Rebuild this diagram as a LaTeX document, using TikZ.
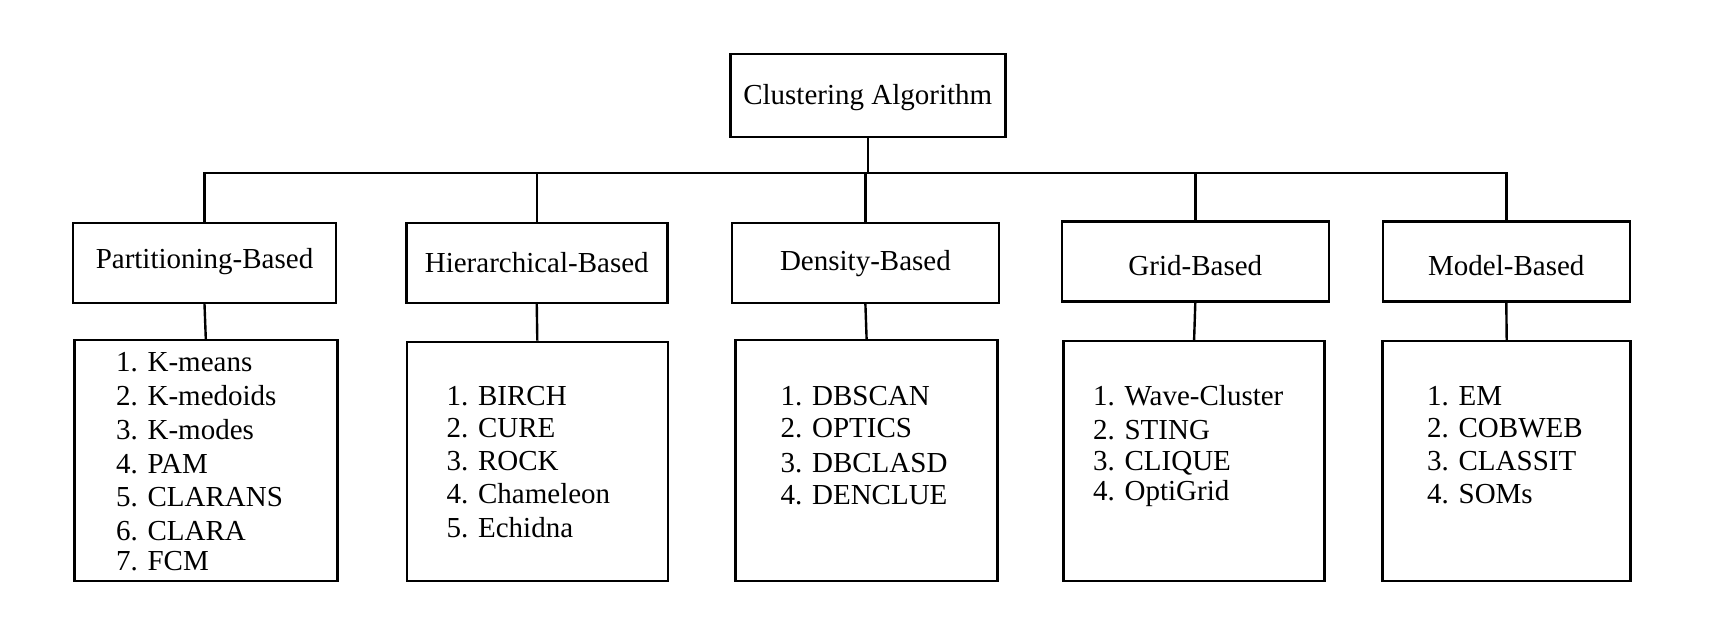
\documentclass[tikz,border=0pt]{standalone}
\usepackage{fontspec}
\setmainfont{Liberation Serif}
\begin{document}
\begin{tikzpicture}[x=1pt,y=-1pt,
  box/.style={draw,line width=2.6pt,inner sep=0pt,font=\fontsize{29}{34}\selectfont},
  bl/.style={text height=#1,text depth=0pt},
  item/.style={anchor=base west,inner sep=0pt,font=\fontsize{29}{34}\selectfont},
  conn/.style={line width=2.4pt}]
\useasboundingbox (0,0) rectangle (1712,632);
% root
\node[box,bl=17pt,minimum width=275pt,minimum height=83pt] (root) at (867.75,95.5) {Clustering Algorithm};
% level 1
\node[box,bl=10.2pt,minimum width=263pt,minimum height=80pt] (pb) at (204.5,262.9) {Partitioning-Based};
\node[box,bl=19.6pt,minimum width=261pt,minimum height=80pt] (hb) at (536.75,262.9) {Hierarchical-Based};
\node[box,bl=14.2pt,minimum width=267pt,minimum height=80pt] (db) at (865.4,262.9) {Density-Based};
\node[box,bl=27.2pt,minimum width=267pt,minimum height=80pt] (gb) at (1195.3,261.4) {Grid-Based};
\node[box,bl=27.2pt,minimum width=247pt,minimum height=80pt] (mb) at (1506.3,261.4) {Model-Based};
% level 2
\node[box,minimum width=263pt,minimum height=241pt] (pl) at (205.8,460.65) {};
\node[box,minimum width=261pt,minimum height=239pt] (hl) at (537.3,461.5) {};
\node[box,minimum width=262pt,minimum height=241pt] (dl) at (866.6,460.65) {};
\node[box,minimum width=261pt,minimum height=240pt] (gl) at (1194.1,461.15) {};
\node[box,minimum width=248pt,minimum height=240pt] (ml) at (1506.7,461.15) {};
% items
\foreach \y/\t [count=\i] in {371.7/K-means,405/K-medoids,439/K-modes,473.3/PAM,506.7/CLARANS,540/CLARA,570/FCM}
  \node[item] (p\i) at (116,\y) {\i. \t};
\foreach \y/\t [count=\i] in {405/BIRCH,437.3/CURE,470.7/ROCK,503.3/Chameleon,537.3/Echidna}
  \node[item] (h\i) at (446.5,\y) {\i. \t};
\foreach \y/\t [count=\i] in {405/DBSCAN,437/OPTICS,472/DBCLASD,504/DENCLUE}
  \node[item] (d\i) at (780.5,\y) {\i. \t};
\foreach \y/\t [count=\i] in {405/Wave-Cluster,439/STING,470.7/CLIQUE,500/OptiGrid}
  \node[item] (g\i) at (1093,\y) {\i. \t};
\foreach \y/\t [count=\i] in {405/EM,437.3/COBWEB,470.7/CLASSIT,503.3/SOMs}
  \node[item] (m\i) at (1427,\y) {\i. \t};
% connectors
\coordinate (bus) at (0,172.7);
\draw[conn] (root.south) -- (root.south |- bus);
\draw[conn] (pb.north) -- (pb.north |- bus) -- (mb.north |- bus) -- (mb.north);
\foreach \n in {hb,db,gb} \draw[conn] (\n.north) -- (\n.north |- bus);
\foreach \a/\b in {pb/pl,hb/hl,db/dl,gb/gl,mb/ml} \draw[conn] (\a.south) -- (\b.north);
\end{tikzpicture}
\end{document}
